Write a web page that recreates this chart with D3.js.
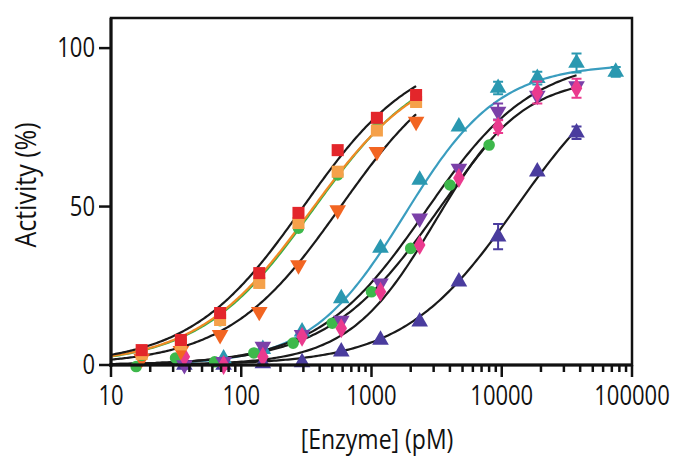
<!DOCTYPE html>
<html>
<head>
<meta charset="utf-8">
<script src="https://cdn.jsdelivr.net/npm/d3@7"></script>
<style>
  body { margin: 0; background: #fff; }
  text { font-family: "Open Sans", sans-serif; fill: #111; }
</style>
</head>
<body>
<div id="chart"></div>
<script>
// concentrations (pM), 2-fold dilution series
const leftConc = [17.2, 34.4, 68.8, 137.5, 275, 550, 1100, 2200];
const midConc = [36.6, 73.2, 146.5, 293, 586, 1172, 2344, 4688, 9375, 18750, 37500];
const tealConc = [73.2, 146.5, 293, 586, 1172, 2344, 4688, 9375, 18750, 37500, 75000];
const greenMidConc = [15.6, 31.3, 62.5, 125, 250, 500, 1000, 2000, 4000, 8000];

// activity (%)
const redVals = [4.7, 7.9, 16.4, 29, 48, 67.8, 78, 85.2];
const orangeVals = [3.5, 6.5, 14.2, 25.9, 44.8, 61, 74, 83];
const greenLeftVals = [3, 7, 14, 26, 43.2, 60, 74.8, 84];
const orangeTriVals = [2, 4.5, 9.5, 16.8, 31.5, 48.9, 67.3, 76.8];
const tealVals = [2, 5, 10.5, 21, 36.9, 58.4, 75.2, 87.4, 90.5, 95.3, 92.5];
const tealErr = [0, 0, 0, 0, 0, 0, 0, 2, 2, 3, 1.5];
const purpleVals = [0, 1, 5.8, 9.5, 14, 25.8, 46.3, 62, 80, 85, 88];
const purpleErr = [0, 0, 0, 0, 0, 0, 0, 0, 2.5, 0, 0];
const pinkVals = [2.6, 0, 2.6, 8.9, 11.6, 23.1, 37.9, 59, 75.2, 86, 87.3];
const pinkErr = [0, 0, 0, 0, 0, 0, 0, 0, 2, 3.5, 3];
const blueVals = [0, 0, 0.5, 0.8, 4.2, 7.9, 13.7, 26.3, 40.5, 61, 73.3];
const blueErr = [0, 0, 0, 0, 0, 0, 0, 0, 4, 0, 2];
const greenMidVals = [-0.5, 2.2, 1, 3.8, 6.9, 13.2, 23.1, 36.8, 56.8, 69.4];

// fitted curve parameters [top, EC50 (pM), hill]
const redFit = [100, 300, 1.0];
const orangeFit = [97, 340, 1.0];
const greenLeftFit = [98, 355, 1.0];
const orangeTriFit = [100, 580, 1.0];
const tealFit = [95, 1800, 1.2];
const purpleFit = [97, 2600, 1.05];
const greenMidFit = [100, 3400, 1.0];
const pinkFit = [91, 3100, 1.3];
const blueFit = [100, 13000, 1.0];

const xTicks = [10, 100, 1000, 10000, 100000];
const yTicks = [0, 50, 100];

const series = [
  { conc: tealConc, vals: tealVals, err: tealErr, fit: tealFit, color: '#2a98b0', line: '#3a9dbf', shape: 'tri' },
  { conc: midConc, vals: blueVals, err: blueErr, fit: blueFit, color: '#4a3c9e', line: '#1a1a1a', shape: 'tri' },
  { conc: greenMidConc, vals: greenMidVals, fit: greenMidFit, color: '#3db84b', line: '#1a1a1a', shape: 'circle' },
  { conc: midConc, vals: purpleVals, err: purpleErr, fit: purpleFit, color: '#7b40a8', line: '#1a1a1a', shape: 'itri' },
  { conc: midConc, vals: pinkVals, err: pinkErr, fit: pinkFit, color: '#ea3a8e', line: '#1a1a1a', shape: 'diamond' },
  { conc: leftConc, vals: orangeTriVals, fit: orangeTriFit, color: '#f26522', line: '#1a1a1a', shape: 'itri' },
  { conc: leftConc, vals: greenLeftVals, fit: greenLeftFit, color: '#3db84b', line: '#35b04a', shape: 'circle' },
  { conc: leftConc, vals: orangeVals, fit: orangeFit, color: '#f5a14a', line: '#f08a24', shape: 'square' },
  { conc: leftConc, vals: redVals, fit: redFit, color: '#e3262b', line: '#1a1a1a', shape: 'square' }
];

const width = 678;
const height = 467;

const x = d3.scaleLog().domain([10, 100000]).range([111, 632]);
const y = d3.scaleLinear().domain([0, 109.5]).range([365, 18]);

const svg = d3.select('#chart').append('svg')
  .attr('width', width)
  .attr('height', height);

// fitted curves
const line = d3.line().x(d => x(d[0])).y(d => y(d[1]));
series.forEach(s => {
  const [top, ec50, n] = s.fit;
  const xmax = d3.max(s.conc);
  const pts = d3.range(0, 201).map(i => {
    const c = Math.pow(10, 1 + i / 200 * (Math.log10(xmax) - 1));
    const r = Math.pow(c / ec50, n);
    return [c, top * r / (1 + r)];
  });
  svg.append('path')
    .attr('d', line(pts))
    .attr('fill', 'none')
    .attr('stroke', s.line)
    .attr('stroke-width', 2.2);
});

// error bars and markers
const symbols = {
  square: d3.symbolSquare, circle: d3.symbolCircle, tri: d3.symbolTriangle,
  itri: d3.symbolTriangle, diamond: d3.symbolDiamond
};
const sizes = { square: 145, circle: 105, tri: 120, itri: 120, diamond: 115 };

series.forEach(s => {
  const pts = s.conc.map((c, i) => ({ c, v: s.vals[i], e: s.err ? s.err[i] : 0 }));
  const g = svg.append('g');
  g.selectAll('path.err')
    .data(pts.filter(d => d.e > 0))
    .join('path')
    .attr('class', 'err')
    .attr('d', d => {
      const px = x(d.c), y1 = y(d.v + d.e), y2 = y(d.v - d.e);
      return `M${px},${y1}V${y2}M${px - 5},${y1}H${px + 5}M${px - 5},${y2}H${px + 5}`;
    })
    .attr('stroke', s.color)
    .attr('stroke-width', 2)
    .attr('fill', 'none');
  g.selectAll('path.pt')
    .data(pts)
    .join('path')
    .attr('class', 'pt')
    .attr('d', d3.symbol().type(symbols[s.shape]).size(sizes[s.shape]))
    .attr('transform', d => `translate(${x(d.c)},${y(Math.max(d.v, -0.5))})` + (s.shape === 'itri' ? ' rotate(180)' : ''))
    .attr('fill', s.color);
});

// frame
svg.append('rect')
  .attr('x', x(10)).attr('y', y(109.5))
  .attr('width', x(100000) - x(10)).attr('height', y(0) - y(109.5))
  .attr('fill', 'none')
  .attr('stroke', '#111')
  .attr('stroke-width', 2.5);

// x axis
const minor = [];
for (let d = 10; d < 100000; d *= 10) for (let k = 2; k <= 9; k++) minor.push(d * k);
const xAxis = svg.append('g');
xAxis.append('line')
  .attr('x1', x(10) - 2).attr('x2', x(100000))
  .attr('y1', y(0)).attr('y2', y(0))
  .attr('stroke', '#111').attr('stroke-width', 3);
xAxis.selectAll('line.minor').data(minor).join('line')
  .attr('class', 'minor')
  .attr('x1', d => x(d)).attr('x2', d => x(d))
  .attr('y1', y(0)).attr('y2', y(0) + 7)
  .attr('stroke', '#111').attr('stroke-width', 2.5);
xAxis.selectAll('line.major').data(xTicks).join('line')
  .attr('class', 'major')
  .attr('x1', d => x(d)).attr('x2', d => x(d))
  .attr('y1', y(0)).attr('y2', y(0) + 12)
  .attr('stroke', '#111').attr('stroke-width', 2.5);
xAxis.selectAll('text').data(xTicks).join('text')
  .attr('transform', d => `translate(${x(d)},405) scale(1,1.25)`)
  .attr('text-anchor', 'middle')
  .attr('font-size', 22)
  .text(d => d);

// y axis
const yAxis = svg.append('g');
yAxis.append('line')
  .attr('x1', x(10)).attr('x2', x(10))
  .attr('y1', y(109.5)).attr('y2', y(0) + 2)
  .attr('stroke', '#111').attr('stroke-width', 3);
yAxis.selectAll('line.tick').data(yTicks).join('line')
  .attr('class', 'tick')
  .attr('x1', x(10) - 12).attr('x2', x(10))
  .attr('y1', d => y(d)).attr('y2', d => y(d))
  .attr('stroke', '#111').attr('stroke-width', 2.5);
yAxis.selectAll('text').data(yTicks).join('text')
  .attr('transform', d => `translate(95,${y(d) + 9}) scale(1,1.25)`)
  .attr('text-anchor', 'end')
  .attr('font-size', 22)
  .text(d => d);

// axis titles
svg.append('text')
  .attr('transform', 'translate(36,185) rotate(-90) scale(1,1.15)')
  .attr('text-anchor', 'middle')
  .attr('font-size', 25)
  .text('Activity (%)');

svg.append('text')
  .attr('transform', 'translate(377,449) scale(1,1.2)')
  .attr('text-anchor', 'middle')
  .attr('font-size', 23)
  .text('[Enzyme] (pM)');
</script>
</body>
</html>
